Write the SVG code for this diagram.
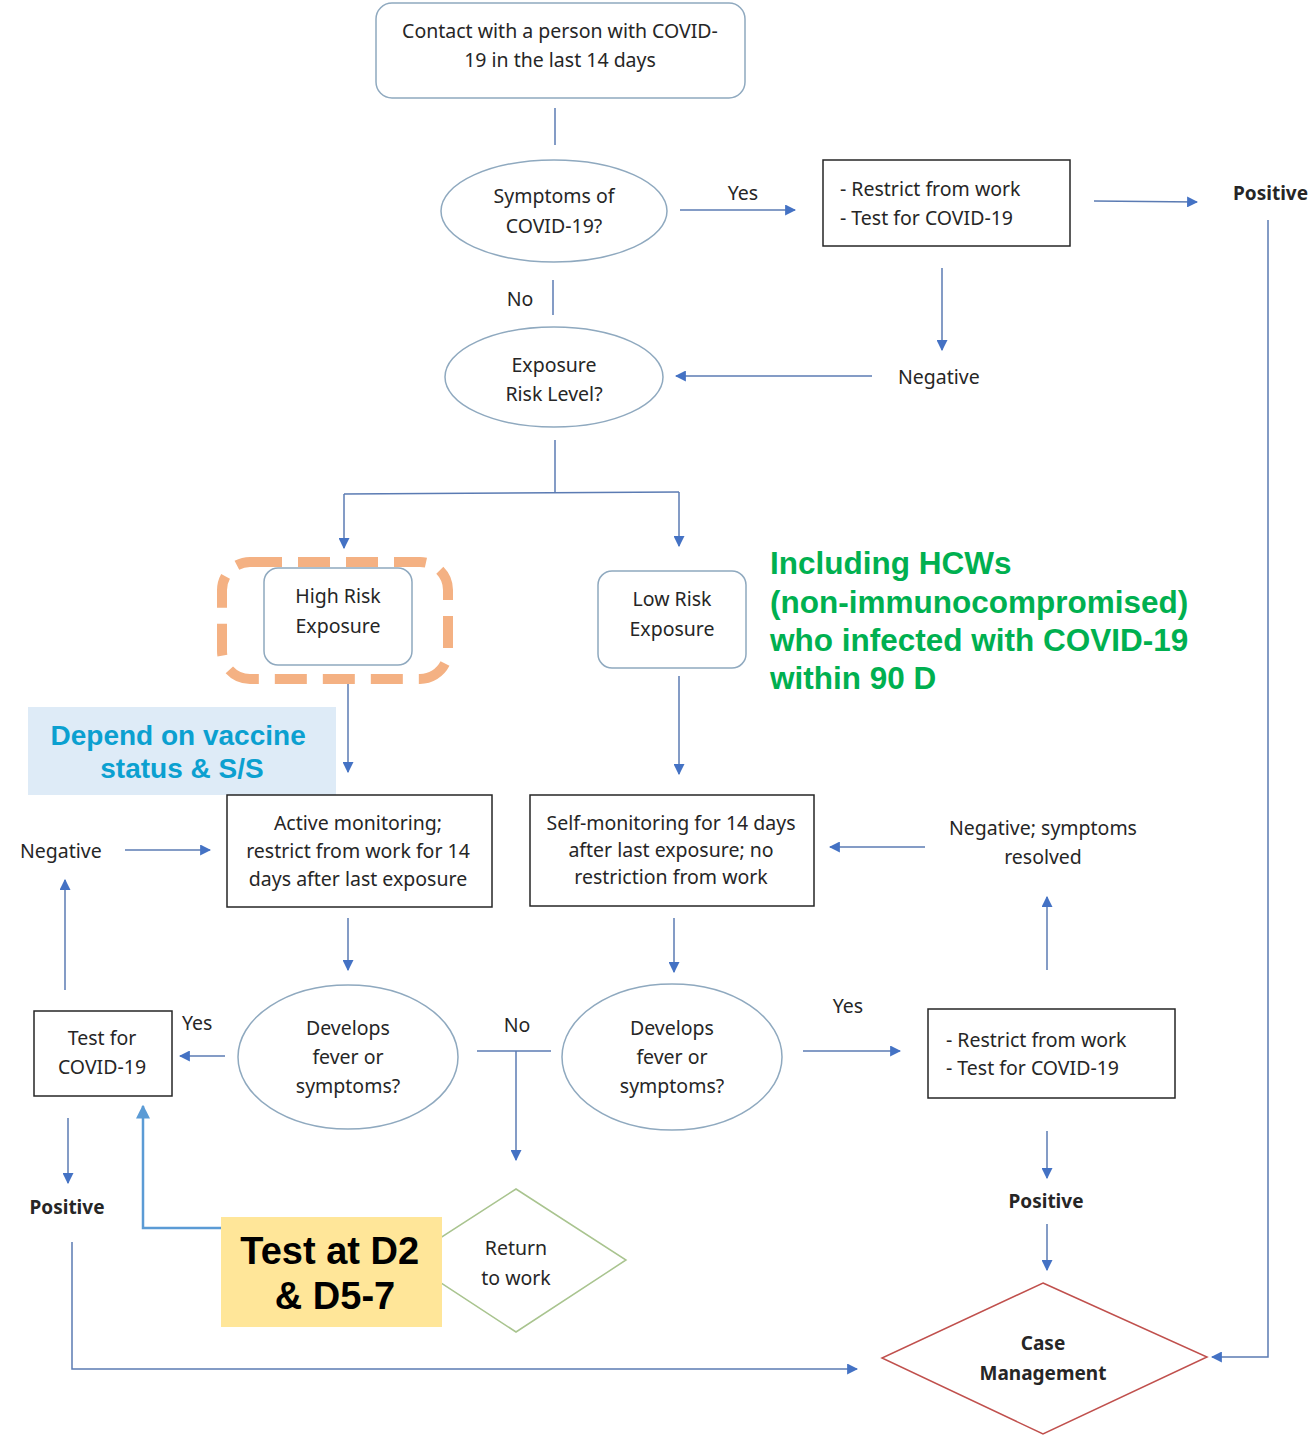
<svg xmlns="http://www.w3.org/2000/svg" width="1309" height="1440" viewBox="0 0 1309 1440">
<style>
.t{font-family:"Noto Sans","Liberation Sans",sans-serif;font-size:19.5px;fill:#262626}
.c{text-anchor:middle}
.b{font-weight:bold;font-size:19px}
.rr{fill:#fff;stroke:#8fa9bf;stroke-width:1.5}
.bx{fill:#fff;stroke:#262626;stroke-width:1.5}
.el{fill:#fff;stroke:#8fa9bf;stroke-width:1.5}
.ln{fill:none;stroke:#5b7bb3;stroke-width:1.5}
.ar{marker-end:url(#ah)}
</style>
<defs>
<marker id="ah" viewBox="0 0 10 10" refX="9" refY="5" markerWidth="11" markerHeight="11" markerUnits="userSpaceOnUse" orient="auto">
<path d="M0,0 L10,5 L0,10 z" fill="#4472c4"/>
</marker>
<marker id="ah2" viewBox="0 0 10 10" refX="9" refY="5" markerWidth="14" markerHeight="14" markerUnits="userSpaceOnUse" orient="auto">
<path d="M0,0 L10,5 L0,10 z" fill="#5b9bd5"/>
</marker>
</defs>
<rect width="1309" height="1440" fill="#fff"/>

<g id="connectors">
<line class="ln" x1="555" y1="108" x2="555" y2="145"/>
<line class="ln ar" x1="680" y1="210" x2="795" y2="210"/>
<line class="ln ar" x1="1094" y1="201" x2="1197" y2="202"/>
<polyline class="ln ar" points="1268,220 1268,1357 1212,1357"/>
<line class="ln ar" x1="942" y1="268" x2="942" y2="350"/>
<line class="ln ar" x1="872" y1="376" x2="676" y2="376"/>
<line class="ln" x1="553" y1="280" x2="553" y2="315"/>
<line class="ln" x1="555" y1="440" x2="555" y2="492"/>
<polyline class="ln ar" points="344,494 344,548"/>
<line class="ln" x1="344" y1="494" x2="679" y2="492"/>
<line class="ln ar" x1="679" y1="492" x2="679" y2="546"/>
<line class="ln ar" x1="348" y1="676" x2="348" y2="772"/>
<line class="ln ar" x1="679" y1="676" x2="679" y2="774"/>
<line class="ln ar" x1="125" y1="850" x2="210" y2="850"/>
<line class="ln ar" x1="925" y1="847" x2="830" y2="847"/>
<line class="ln ar" x1="348" y1="918" x2="348" y2="970"/>
<line class="ln ar" x1="674" y1="918" x2="674" y2="972"/>
<line class="ln ar" x1="225" y1="1056" x2="180" y2="1056"/>
<line class="ln ar" x1="65" y1="990" x2="65" y2="880"/>
<line class="ln ar" x1="68" y1="1118" x2="68" y2="1183"/>
<polyline class="ln ar" points="72,1242 72,1369 857,1369"/>
<line class="ln" x1="477" y1="1051" x2="551" y2="1051"/>
<line class="ln ar" x1="516" y1="1051" x2="516" y2="1160"/>
<line class="ln ar" x1="803" y1="1051" x2="900" y2="1051"/>
<line class="ln ar" x1="1047" y1="970" x2="1047" y2="897"/>
<line class="ln ar" x1="1047" y1="1131" x2="1047" y2="1178"/>
<line class="ln ar" x1="1047" y1="1224" x2="1047" y2="1270"/>
<polyline fill="none" stroke="#5b9bd5" stroke-width="2.5" marker-end="url(#ah2)" points="221,1228 143,1228 143,1106"/>
</g>

<g id="labels">
<text class="t c" x="743" y="200">Yes</text>
<text class="t c" x="520" y="306">No</text>
<text class="t" x="182" y="1030">Yes</text>
<text class="t c" x="517" y="1032">No</text>
<text class="t c" x="848" y="1013">Yes</text>
</g>

<g id="n-contact">
<rect class="rr" x="376" y="3" width="369" height="95" rx="16"/>
<text class="t c" x="560" y="38">Contact with a person with COVID-</text>
<text class="t c" x="560" y="67">19 in the last 14 days</text>
</g>

<g id="n-symptoms">
<ellipse class="el" cx="554" cy="211" rx="113" ry="51"/>
<text class="t c" x="554" y="203">Symptoms of</text>
<text class="t c" x="554" y="233">COVID-19?</text>
</g>

<g id="n-restrict1">
<rect class="bx" x="823" y="160" width="247" height="86"/>
<text class="t" x="840" y="196">- Restrict from work</text>
<text class="t" x="840" y="225">- Test for COVID-19</text>
</g>

<g id="n-positive1"><text class="t b" x="1233" y="200">Positive</text></g>
<g id="n-negative1"><text class="t" x="898" y="384">Negative</text></g>

<g id="n-exposure">
<ellipse class="el" cx="554" cy="377" rx="109" ry="50"/>
<text class="t c" x="554" y="372">Exposure</text>
<text class="t c" x="554" y="401">Risk Level?</text>
</g>

<g id="n-high">
<rect class="rr" x="264" y="568" width="148" height="97" rx="14"/>
<text class="t c" x="338" y="603">High Risk</text>
<text class="t c" x="338" y="633">Exposure</text>
<rect x="222" y="562" width="226" height="117" rx="28" fill="none" stroke="#f4b183" stroke-width="10" stroke-dasharray="32,16"/>
</g>

<g id="n-low">
<rect class="rr" x="598" y="571" width="148" height="97" rx="14"/>
<text class="t c" x="672" y="606">Low Risk</text>
<text class="t c" x="672" y="636">Exposure</text>
</g>

<g id="n-hcw">
<text font-family="Liberation Sans,Arial,sans-serif" font-size="31.5" font-weight="bold" fill="#00b050">
<tspan x="770" y="574">Including HCWs</tspan>
<tspan x="770" y="613">(non-immunocompromised)</tspan>
<tspan x="770" y="651">who infected with COVID-19</tspan>
<tspan x="770" y="689">within 90 D</tspan>
</text>
</g>

<g id="n-vaccine">
<rect x="28" y="707" width="308" height="88" fill="#deebf7"/>
<text font-family="Liberation Sans,Arial,sans-serif" font-size="28" font-weight="bold" fill="#0ba0d0" text-anchor="middle">
<tspan x="182" y="745">Depend on vaccine</tspan>
<tspan x="182" y="778">status &amp; S/S</tspan>
</text>
</g>

<g id="n-active">
<rect class="bx" x="227" y="795" width="265" height="112"/>
<text class="t c" x="358" y="830">Active monitoring;</text>
<text class="t c" x="358" y="858">restrict from work for 14</text>
<text class="t c" x="358" y="886">days after last exposure</text>
</g>

<g id="n-self">
<rect class="bx" x="530" y="795" width="284" height="111"/>
<text class="t c" x="671" y="830">Self-monitoring for 14 days</text>
<text class="t c" x="671" y="857">after last exposure; no</text>
<text class="t c" x="671" y="884">restriction from work</text>
</g>

<g id="n-negative2"><text class="t" x="20" y="858">Negative</text></g>

<g id="n-negres">
<text class="t c" x="1043" y="835">Negative; symptoms</text>
<text class="t c" x="1043" y="864">resolved</text>
</g>

<g id="n-develops1">
<ellipse class="el" cx="348" cy="1057" rx="110" ry="72"/>
<text class="t c" x="348" y="1035">Develops</text>
<text class="t c" x="348" y="1064">fever or</text>
<text class="t c" x="348" y="1093">symptoms?</text>
</g>

<g id="n-develops2">
<ellipse class="el" cx="672" cy="1057" rx="110" ry="73"/>
<text class="t c" x="672" y="1035">Develops</text>
<text class="t c" x="672" y="1064">fever or</text>
<text class="t c" x="672" y="1093">symptoms?</text>
</g>

<g id="n-test">
<rect class="bx" x="34" y="1011" width="138" height="85"/>
<text class="t c" x="102" y="1045">Test for</text>
<text class="t c" x="102" y="1074">COVID-19</text>
</g>

<g id="n-positive2"><text class="t b c" x="67" y="1214">Positive</text></g>

<g id="n-return">
<polygon points="516,1189 626,1260 516,1332 406,1260" fill="#fff" stroke="#a9c48f" stroke-width="1.5"/>
<text class="t c" x="516" y="1255">Return</text>
<text class="t c" x="516" y="1285">to work</text>
</g>

<g id="n-testd2">
<rect x="221" y="1217" width="221" height="110" fill="#ffe699"/>
<text font-family="Liberation Sans,Arial,sans-serif" font-size="38" font-weight="bold" fill="#000" text-anchor="middle">
<tspan x="335" y="1264">Test at D2</tspan>
<tspan x="335" y="1309">&amp; D5-7</tspan>
</text>
</g>

<g id="n-restrict2">
<rect class="bx" x="928" y="1009" width="247" height="89"/>
<text class="t" x="946" y="1047">- Restrict from work</text>
<text class="t" x="946" y="1075">- Test for COVID-19</text>
</g>

<g id="n-positive3"><text class="t b c" x="1046" y="1208">Positive</text></g>

<g id="n-case">
<polygon points="1043,1283 1207,1357 1043,1434 882,1358" fill="#fff" stroke="#c0504d" stroke-width="1.5"/>
<text class="t b c" x="1043" y="1350">Case</text>
<text class="t b c" x="1043" y="1380">Management</text>
</g>
</svg>
